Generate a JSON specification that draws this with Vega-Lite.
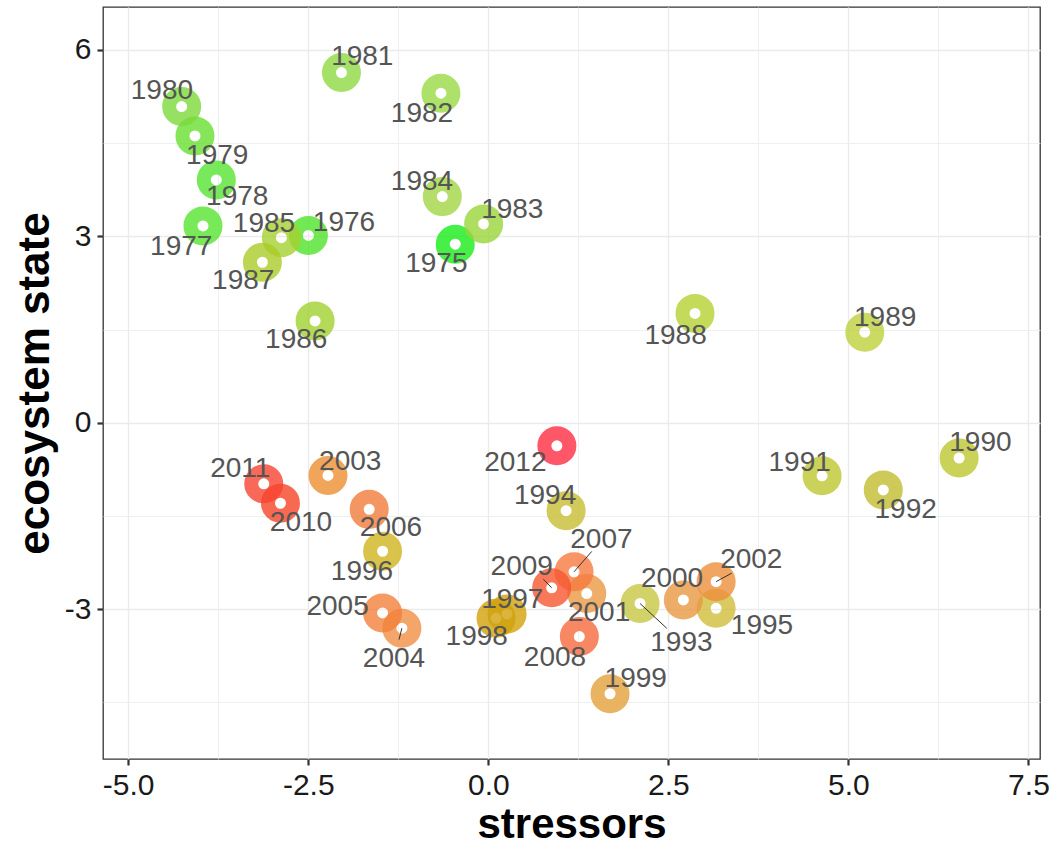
{
  "$schema": "https://vega.github.io/schema/vega-lite/v6.json",
  "width": 937,
  "height": 752,
  "autosize": {"type": "none"},
  "padding": {"left": 103, "top": 7, "right": 17, "bottom": 90},
  "background": "white",
  "config": {
    "view": {"stroke": "#333333", "strokeWidth": 1.3},
    "font": "Liberation Sans",
    "text": {"font": "Liberation Sans"}
  },
  "data": {
    "values": [
      {"year": "1975", "stressors": -0.459, "state": 2.873, "lx": -0.722, "ly": 2.556},
      {"year": "1976", "stressors": -2.498, "state": 3.014, "lx": -2.004, "ly": 3.211},
      {"year": "1977", "stressors": -3.962, "state": 3.168, "lx": -4.264, "ly": 2.835},
      {"year": "1978", "stressors": -3.777, "state": 3.908, "lx": -3.486, "ly": 3.639},
      {"year": "1979", "stressors": -4.073, "state": 4.616, "lx": -3.764, "ly": 4.299},
      {"year": "1980", "stressors": -4.258, "state": 5.088, "lx": -4.532, "ly": 5.345},
      {"year": "1981", "stressors": -2.039, "state": 5.635, "lx": -1.75, "ly": 5.88},
      {"year": "1982", "stressors": -0.658, "state": 5.303, "lx": -0.921, "ly": 4.965},
      {"year": "1983", "stressors": -0.065, "state": 3.2, "lx": 0.333, "ly": 3.425},
      {"year": "1984", "stressors": -0.639, "state": 3.639, "lx": -0.921, "ly": 3.876},
      {"year": "1985", "stressors": -2.873, "state": 2.979, "lx": -3.115, "ly": 3.195},
      {"year": "1986", "stressors": -2.405, "state": 1.639, "lx": -2.667, "ly": 1.333},
      {"year": "1987", "stressors": -3.137, "state": 2.583, "lx": -3.403, "ly": 2.283},
      {"year": "1988", "stressors": 2.87, "state": 1.76, "lx": 2.6, "ly": 1.39},
      {"year": "1989", "stressors": 5.227, "state": 1.457, "lx": 5.51, "ly": 1.687},
      {"year": "1990", "stressors": 6.537, "state": -0.567, "lx": 6.833, "ly": -0.329},
      {"year": "1991", "stressors": 4.634, "state": -0.853, "lx": 4.323, "ly": -0.642},
      {"year": "1992", "stressors": 5.484, "state": -1.08, "lx": 5.795, "ly": -1.403},
      {"year": "1993", "stressors": 2.107, "state": -2.908, "lx": 2.681, "ly": -3.548, "sx": 2.478, "sy": -3.307},
      {"year": "1994", "stressors": 1.08, "state": -1.414, "lx": 0.788, "ly": -1.182},
      {"year": "1995", "stressors": 3.163, "state": -2.985, "lx": 3.8, "ly": -3.265},
      {"year": "1996", "stressors": -1.468, "state": -2.067, "lx": -1.754, "ly": -2.4},
      {"year": "1997", "stressors": 0.26, "state": -3.076, "lx": 0.333, "ly": -2.856},
      {"year": "1998", "stressors": 0.107, "state": -3.146, "lx": -0.161, "ly": -3.447},
      {"year": "1999", "stressors": 1.69, "state": -4.36, "lx": 2.047, "ly": -4.117},
      {"year": "2000", "stressors": 2.708, "state": -2.851, "lx": 2.551, "ly": -2.508},
      {"year": "2001", "stressors": 1.367, "state": -2.748, "lx": 1.538, "ly": -3.06},
      {"year": "2002", "stressors": 3.163, "state": -2.556, "lx": 3.651, "ly": -2.213, "sx": 3.38, "sy": -2.42},
      {"year": "2003", "stressors": -2.226, "state": -0.848, "lx": -1.917, "ly": -0.635},
      {"year": "2004", "stressors": -1.2, "state": -3.305, "lx": -1.31, "ly": -3.796, "sx": -1.24, "sy": -3.49},
      {"year": "2005", "stressors": -1.468, "state": -3.06, "lx": -2.093, "ly": -2.969},
      {"year": "2006", "stressors": -1.654, "state": -1.393, "lx": -1.351, "ly": -1.692},
      {"year": "2007", "stressors": 1.19, "state": -2.398, "lx": 1.57, "ly": -1.88, "sx": 1.436, "sy": -2.07},
      {"year": "2008", "stressors": 1.264, "state": -3.44, "lx": 0.926, "ly": -3.78},
      {"year": "2009", "stressors": 0.88, "state": -2.655, "lx": 0.464, "ly": -2.32, "sx": 0.764, "sy": -2.518},
      {"year": "2010", "stressors": -2.886, "state": -1.295, "lx": -2.601, "ly": -1.612},
      {"year": "2011", "stressors": -3.118, "state": -0.982, "lx": -3.444, "ly": -0.738},
      {"year": "2012", "stressors": 0.952, "state": -0.37, "lx": 0.375, "ly": -0.646}
    ]
  },
  "layer": [
    {
      "mark": {"type": "point", "shape": "circle", "filled": false, "size": 625, "strokeWidth": 14, "opacity": 0.8},
      "encoding": {
        "x": {
          "field": "stressors",
          "type": "quantitative",
          "scale": {"domain": [-5.35, 7.66], "nice": false, "zero": false},
          "axis": {
            "values": [-5, -3.75, -2.5, -1.25, 0, 1.25, 2.5, 3.75, 5, 6.25, 7.5],
            "grid": true,
            "gridColor": "#ebebeb",
            "gridWidth": {"condition": {"test": "datum.value % 2.5 === 0", "value": 1.4}, "value": 0.8},
            "domain": false,
            "ticks": true,
            "tickColor": "#333333",
            "tickWidth": 2.2,
            "tickSize": 6,
            "tickOpacity": {"condition": {"test": "datum.value % 2.5 === 0", "value": 1}, "value": 0},
            "labelExpr": "datum.value % 2.5 === 0 ? replace(format(datum.value, '.1f'), '\u2212', '-') : ''",
            "labelFont": "Liberation Sans",
            "labelFontSize": 30,
            "labelColor": "#1a1a1a",
            "labelPadding": 5,
            "labelOverlap": false,
            "labelFlush": false,
            "title": "stressors",
            "titleFont": "Liberation Sans",
            "titleFontSize": 42,
            "titleFontWeight": "bold",
            "titleColor": "#000000",
            "titlePadding": 4
          }
        },
        "y": {
          "field": "state",
          "type": "quantitative",
          "scale": {"domain": [-5.41, 6.69], "nice": false, "zero": false},
          "axis": {
            "values": [-4.5, -3, -1.5, 0, 1.5, 3, 4.5, 6],
            "grid": true,
            "gridColor": "#ebebeb",
            "gridWidth": {"condition": {"test": "datum.value % 3 === 0", "value": 1.4}, "value": 0.8},
            "domain": false,
            "ticks": true,
            "tickColor": "#333333",
            "tickWidth": 2.2,
            "tickSize": 6,
            "tickOpacity": {"condition": {"test": "datum.value % 3 === 0", "value": 1}, "value": 0},
            "labelExpr": "datum.value % 3 === 0 ? replace(format(datum.value, 'd'), '\u2212', '-') : ''",
            "labelFont": "Liberation Sans",
            "labelFontSize": 30,
            "labelColor": "#1a1a1a",
            "labelPadding": 6,
            "labelOverlap": false,
            "title": "ecosystem state",
            "titleFont": "Liberation Sans",
            "titleFontSize": 44,
            "titleFontWeight": "bold",
            "titleColor": "#000000",
            "titlePadding": 7
          }
        },
        "color": {
          "field": "year",
          "type": "nominal",
          "legend": null,
          "scale": {
            "domain": ["1975", "1976", "1977", "1978", "1979", "1980", "1981", "1982", "1983", "1984", "1985", "1986", "1987", "1988", "1989", "1990", "1991", "1992", "1993", "1994", "1995", "1996", "1997", "1998", "1999", "2000", "2001", "2002", "2003", "2004", "2005", "2006", "2007", "2008", "2009", "2010", "2011", "2012"],
            "range": ["#1aed1a", "#50e42a", "#57e631", "#57e431", "#6adf31", "#7cda3b", "#8fda44", "#99da44", "#99d63b", "#a2d644", "#a7d131", "#a2d131", "#abcc28", "#b5d131", "#bed13b", "#bec831", "#bec831", "#c3be31", "#c8c844", "#c8be31", "#d1be3b", "#d1b51e", "#d1a20b", "#d1a20b", "#e4a23b", "#e99944", "#eb9944", "#ed8f3b", "#ed8f31", "#f28f44", "#f2813b", "#f27c3b", "#f77a3f", "#f76a3d", "#f75731", "#f74428", "#f74431", "#ff2e42"]
          }
        }
      }
    },
    {
      "transform": [{"filter": "isValid(datum.sx)"}],
      "mark": {"type": "rule", "color": "#333333", "strokeWidth": 1},
      "encoding": {
        "x": {"field": "stressors", "type": "quantitative"},
        "y": {"field": "state", "type": "quantitative"},
        "x2": {"field": "sx"},
        "y2": {"field": "sy"}
      }
    },
    {
      "mark": {"type": "text", "fontSize": 28, "color": "#555555", "align": "center", "baseline": "middle", "font": "Liberation Sans"},
      "encoding": {
        "x": {"field": "lx", "type": "quantitative"},
        "y": {"field": "ly", "type": "quantitative"},
        "text": {"field": "year", "type": "nominal"}
      }
    }
  ]
}
